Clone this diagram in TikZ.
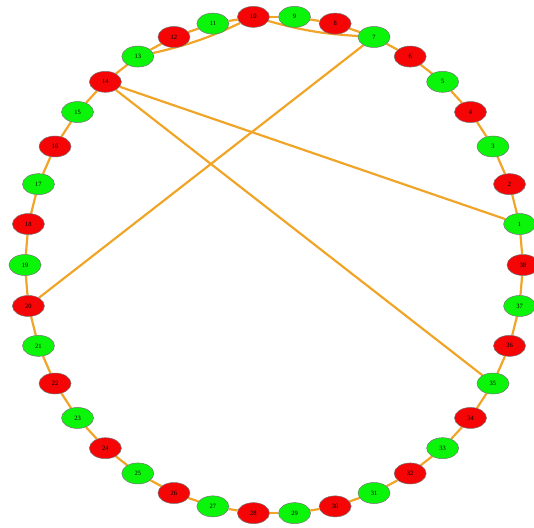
\documentclass[tikz,border=0pt]{standalone}
\usepackage{fontspec}
\setmainfont{Liberation Serif}
\usetikzlibrary{shapes.geometric,backgrounds}
\definecolor{edgeor}{RGB}{240,165,40}
\definecolor{ngreen}{RGB}{10,245,10}
\definecolor{nred}{RGB}{245,5,5}
\tikzset{
  vert/.style={ellipse, draw=black!55, line width=0.5pt, minimum width=32pt, minimum height=21pt, inner sep=0pt, font=\fontsize{6.5}{6.5}\selectfont},
  gv/.style={vert, fill=ngreen},
  rv/.style={vert, fill=nred},
  link/.style={draw=edgeor, line width=2.2pt}
}
\begin{document}
\begin{tikzpicture}[x=1pt,y=1pt]
\useasboundingbox (0,0) rectangle (534,-527);
\foreach \k in {1,...,38}{
  \pgfmathsetmacro\ang{\k*360/38}
  \ifodd\k \def\st{gv}\else\def\st{rv}\fi
  \node[\st] (n\k) at ({274+249*cos(\ang)},{-265+249*sin(\ang)}) {\k};
}
\begin{scope}[on background layer]
  \foreach \k [evaluate=\k as \nx using {int(mod(\k,38)+1)}] in {1,...,38}
    \draw[link] (n\k) -- (n\nx);
  \draw[link] (n1) -- (n14);
  \draw[link] (n14) -- (n35);
  \draw[link] (n7) -- (n20);
  \draw[link] (n13) to[bend right=6] (n10);
  \draw[link] (n10) to[bend right=6] (n7);
\end{scope}
\end{tikzpicture}
\end{document}
